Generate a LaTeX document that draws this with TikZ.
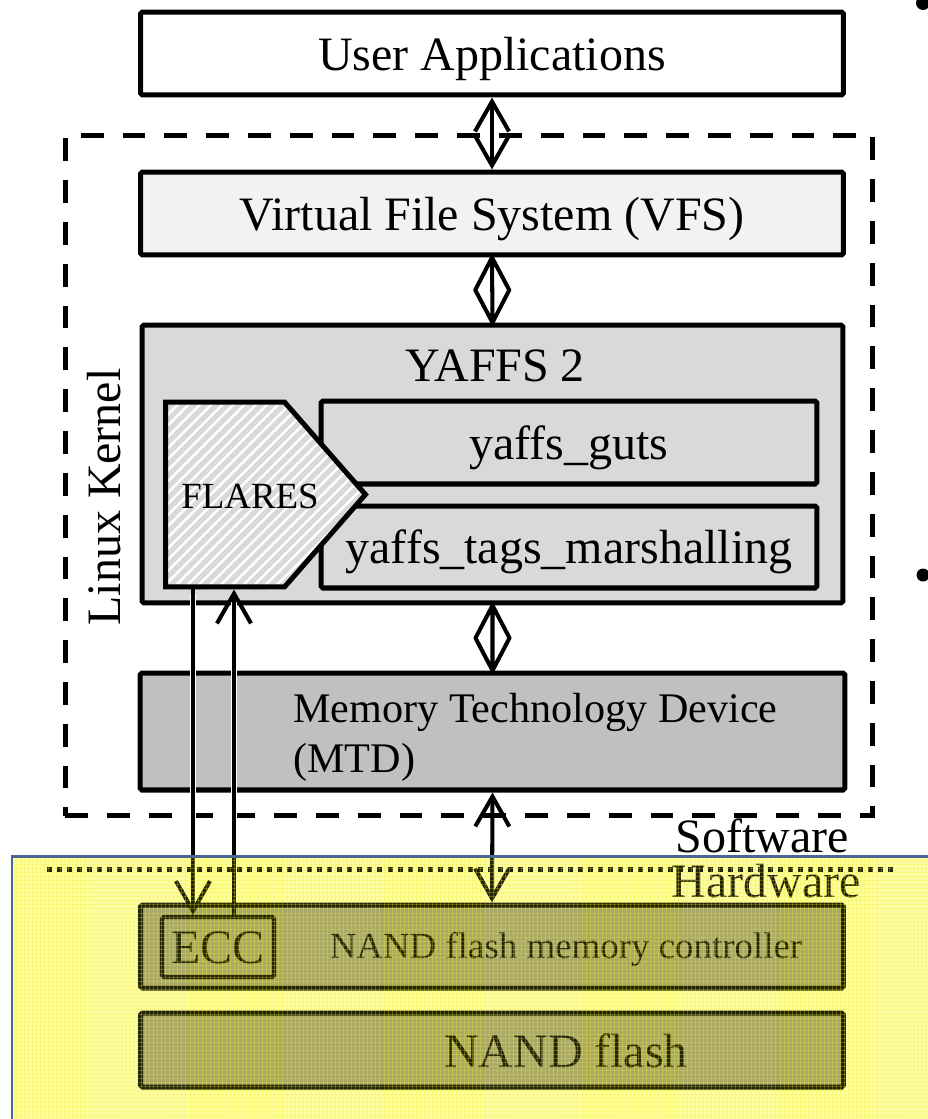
\documentclass[tikz,border=0pt]{standalone}
\usepackage{fontspec}
\setmainfont{Liberation Serif}
\usetikzlibrary{arrows.meta,shapes.symbols,patterns.meta,calc}
\definecolor{vfsfill}{RGB}{242,242,242}
\definecolor{yafill}{RGB}{217,217,217}
\definecolor{mtdfill}{RGB}{192,192,192}
\definecolor{hwbg}{RGB}{253,253,160}
\definecolor{hwgrid}{RGB}{240,240,40}
\definecolor{hwbox}{RGB}{170,168,104}
\definecolor{hwline}{RGB}{35,35,5}
\definecolor{hwblue}{RGB}{72,102,150}
\newcommand\bigf{\fontsize{27.3}{32}\selectfont}
\newcommand\midf{\fontsize{24}{28.5}\selectfont}
\newcommand\smallf{\fontsize{21}{25}\selectfont}
\tikzset{
  box/.style={draw, line width=2.85pt, rounded corners=1pt, inner sep=0pt},
  ct/.style={text height=25pt, text depth=6.2pt},
  conn/.style={line width=2.3pt},
  >={Straight Barb[length=17pt,width=19.4pt]},
  dbl/.style={<->},
  tipdown/.style={->},
  tipup/.style={<-},
}
\newcommand\drawconns[2]{%
  \draw[conn,draw=#1,dbl] (ua.south) -- (vfs.north);
  \draw[conn,draw=#1,line join=round]
     (vfs.south) -- ($(vfs.south)!0.5!(yaffs.north)+(-17,0)$) -- (yaffs.north)
     -- ($(vfs.south)!0.5!(yaffs.north)+(17,0)$) -- cycle
     (vfs.south) -- (yaffs.north);
  \draw[conn,draw=#1,line join=round]
     (yaffs.south) -- ($(yaffs.south)!0.5!(mtd.north)+(-17,0)$) -- (mtd.north)
     -- ($(yaffs.south)!0.5!(mtd.north)+(17,0)$) -- cycle
     (yaffs.south) -- (mtd.north);
  \draw[conn,draw=#1,dbl] (mtd.south) -- (ctrl.north);
  \draw[conn,draw=#1,#2,tipdown] ([xshift=0.6cm]flares.south west) -- ([xshift=0.6cm]flares.south west |- ecc.north);
  \draw[conn,draw=#1,#2,tipup] ([xshift=1.42cm]flares.south west) -- ([xshift=1.42cm]flares.south west |- ecc.north);
}
\begin{document}
\begin{tikzpicture}[x=0.02cm,y=-0.02cm]
\useasboundingbox (0,0) rectangle (928,1119);

% bullets of the slide text at the right edge
\fill (923,3) circle (0.14cm);
\fill (923,575) circle (0.13cm);

% hardware area
\fill[hwbg] (12,856) rectangle (928,1119);
\draw[hwline, line width=2.85pt, dash pattern=on 2.85pt off 2.85pt] (47,869) -- (893,869);
\node[font=\bigf, text=hwline, anchor=base east, inner sep=0pt] (hw) at (861,897) {Hardware};
\node[box, draw=hwline, fill=hwbox, minimum width=14.06cm, minimum height=1.66cm] (ctrl) at (492,946.5) {};
\node[font=\smallf, text=hwline, anchor=base, inner sep=0pt] (ctrltxt) at (566,958) {NAND flash memory controller};
\node[box, line width=2.3pt, draw=hwline, fill=hwbox, minimum width=2.24cm, minimum height=1.2cm, font=\bigf, text=hwline, ct] (ecc) at (218,947) {ECC};
\node[box, draw=hwline, fill=hwbox, minimum width=14.06cm, minimum height=1.48cm] (nand) at (492,1050) {};
\node[font=\bigf, text=hwline, anchor=base, inner sep=0pt] (nandtxt) at (566,1067) {NAND flash};
\node[font=\bigf, anchor=base east, inner sep=0pt] (sw) at (849,852) {Software};

% software stack
\node[draw, line width=2.85pt, dash pattern=on 13pt off 10.8pt, minimum width=16.16cm, minimum height=13.62cm, inner sep=0pt] (kernel) at (469,475.5) {};
\node[font=\bigf, rotate=90] (lk) at (104,497) {Linux Kernel};

\node[box, fill=white, minimum width=14.06cm, minimum height=1.66cm, font=\bigf, ct] (ua) at (492,53.5) {User Applications};
\node[box, fill=vfsfill, minimum width=14.06cm, minimum height=1.66cm, font=\bigf, ct] (vfs) at (492,213.5) {Virtual File System (VFS)};
\node[box, fill=yafill, minimum width=14.02cm, minimum height=5.56cm] (yaffs) at (492.5,464) {};
\node[font=\bigf, anchor=base, inner sep=0pt] (ytitle) at (495,381) {YAFFS 2};
\node[box, fill=yafill, minimum width=9.92cm, minimum height=1.66cm, font=\bigf, ct] (guts) at (569,442.5) {yaffs\_guts};
\node[box, fill=yafill, minimum width=9.92cm, minimum height=1.64cm, font=\bigf, ct] (tags) at (569,547) {yaffs\_tags\_marshalling};
\node[signal, signal to=east, signal pointer angle=97.6, minimum width=4cm, minimum height=3.7cm, inner sep=0pt,
      preaction={fill=yafill}, pattern={Lines[angle=45,distance=4.5pt,line width=1.4pt]}, pattern color=white,
      draw, line width=2.85pt, anchor=west] (flares) at (163,494.5) {};
\node[font=\smallf, anchor=base, inner sep=0pt] (flarestxt) at (250,508) {FLARES};
\node[box, fill=mtdfill, minimum width=14.1cm, minimum height=2.34cm] (mtd) at (492.5,731.5) {};
\node[font=\midf, align=left, anchor=north west, inner sep=0pt] (mtdtxt) at (293,693) {Memory Technology Device\\(MTD)};

% connectors: black above the hardware line, olive inside it
\begin{scope}
  \clip (0,0) rectangle (928,856);
  \drawconns{black}{preaction={draw=white,line width=3.8pt,arrows=-,shorten <=2.3pt}}
\end{scope}
\begin{scope}
  \clip (0,856) rectangle (928,1119);
  \drawconns{hwline}{}
\end{scope}

% fine yellow grid of the hardware overlay
\fill[pattern={Lines[angle=0,distance=2.3pt,line width=0.45pt]}, pattern color=hwgrid, opacity=0.28] (12,856) rectangle (928,1119);
\fill[pattern={Lines[angle=90,distance=2.3pt,line width=0.45pt]}, pattern color=hwgrid, opacity=0.28] (12,856) rectangle (928,1119);
\draw[hwblue, line width=1.7pt] (12,1119) -- (12,856) -- (928,856);
\end{tikzpicture}
\end{document}
